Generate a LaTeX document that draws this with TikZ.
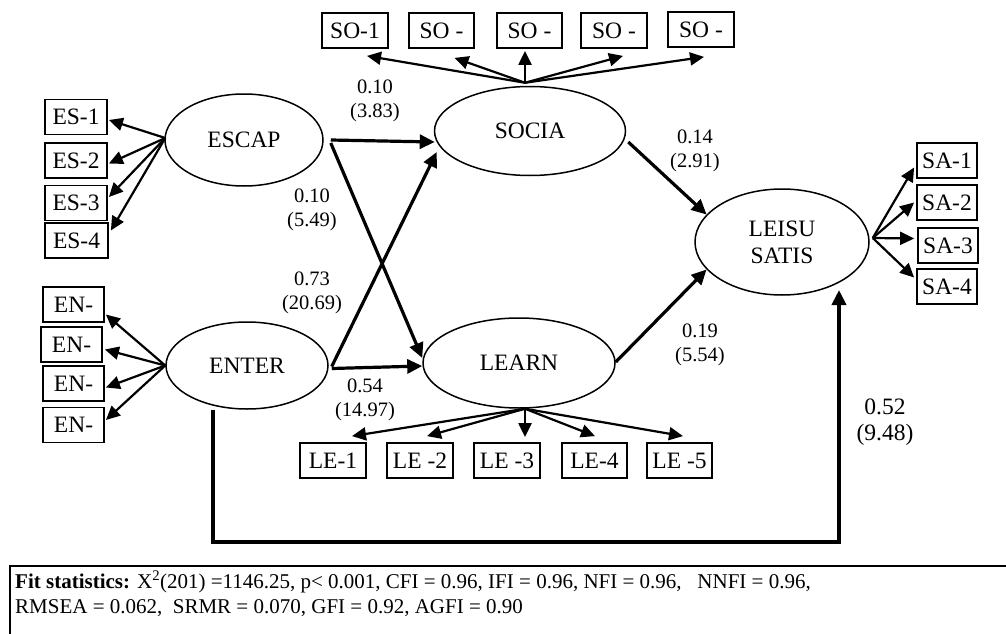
\documentclass[tikz,border=0pt]{standalone}
\usepackage{fontspec}
\setmainfont{Liberation Serif}
\usetikzlibrary{arrows.meta,shapes.geometric}
\begin{document}
\begin{tikzpicture}[x=1pt,y=-1pt,
 lat/.style={draw, ellipse, line width=1.5pt, inner sep=0pt, font=\fontsize{23.5}{27}\selectfont, align=center},
 ind/.style={draw, rectangle, line width=1.8pt, inner sep=0pt, minimum height=35pt, font=\fontsize{23.5}{27}\selectfont},
 load/.style={line width=2.2pt, -{Triangle[length=14pt,width=13pt]}},
 strpath/.style={line width=3.2pt, -{Triangle[length=15pt,width=14pt]}},
 coef/.style={font=\fontsize{20.5}{24}\selectfont, align=center, inner sep=0pt},
 bigcoef/.style={font=\fontsize{23.5}{26}\selectfont, align=center, inner sep=0pt},
 fit/.style={font=\fontsize{21}{25}\selectfont, inner sep=0pt, anchor=base west},
]
\useasboundingbox (0,0) rectangle (1006,634);

% latent variables
\node[lat, minimum width=158pt, minimum height=92pt] (ESCAP) at (244,140) {ESCAP};
\node[lat, minimum width=191pt, minimum height=89pt] (SOCIA) at (530,131) {SOCIA};
\node[lat, minimum width=162pt, minimum height=87pt] (ENTER) at (247,365.5) {ENTER};
\node[lat, minimum width=192pt, minimum height=90pt] (LEARN) at (519,363) {LEARN};
\node[lat, minimum width=174pt, minimum height=106pt] (LEISU) at (782,242) {LEISU\\SATIS};

% indicators
\node[ind, minimum width=66pt] (SO1) at (355,30.5) {SO-1};
\node[ind, minimum width=65pt] (SO2) at (441.5,30.5) {SO -};
\node[ind, minimum width=65pt] (SO3) at (529.5,30.5) {SO -};
\node[ind, minimum width=66pt] (SO4) at (614,30.5) {SO -};
\node[ind, minimum width=66pt] (SO5) at (701,29.5) {SO -};

\node[ind, minimum width=62pt] (ES1) at (76,117) {ES-1};
\node[ind, minimum width=62pt] (ES2) at (76,160.5) {ES-2};
\node[ind, minimum width=62pt] (ES3) at (76,203) {ES-3};
\node[ind, minimum width=63pt] (ES4) at (76.5,240.5) {ES-4};

\node[ind, minimum width=61pt] (EN1) at (73.5,304.5) {EN-};
\node[ind, minimum width=61pt] (EN2) at (71.5,344.5) {EN-};
\node[ind, minimum width=61pt] (EN3) at (73.5,383.5) {EN-};
\node[ind, minimum width=61pt] (EN4) at (73.5,425) {EN-};

\node[ind, minimum width=66pt] (LE1) at (333,460.5) {LE-1};
\node[ind, minimum width=66pt] (LE2) at (420,460.5) {LE -2};
\node[ind, minimum width=66pt] (LE3) at (507,460.5) {LE -3};
\node[ind, minimum width=65pt] (LE4) at (594.5,460.5) {LE-4};
\node[ind, minimum width=65pt] (LE5) at (679.5,460.5) {LE -5};

\node[ind, minimum width=60pt] (SA1) at (947,160.5) {SA-1};
\node[ind, minimum width=60pt] (SA2) at (947,202.5) {SA-2};
\node[ind, minimum width=60pt] (SA3) at (948,245.5) {SA-3};
\node[ind, minimum width=60pt] (SA4) at (947,286.5) {SA-4};

% loadings
\coordinate (sotop) at ([xshift=-5pt,yshift=3pt]SOCIA.north);
\draw[load] (sotop) -- ([xshift=12pt,yshift=-7pt]SO1.south);
\draw[load] (sotop) -- ([xshift=13pt,yshift=-9pt]SO2.south);
\draw[load] (sotop) -- ([xshift=-4.5pt,yshift=-2pt]SO3.south);
\draw[load] (sotop) -- ([xshift=9pt,yshift=-7pt]SO4.south);
\draw[load] (sotop) -- ([xshift=3pt,yshift=-9pt]SO5.south);

\coordinate (esw) at ([xshift=1pt,yshift=2pt]ESCAP.west);
\draw[load] (esw) -- ([xshift=1pt,yshift=-3pt]ES1.east);
\draw[load] (esw) -- ([xshift=1pt,yshift=-3pt]ES2.east);
\draw[load] (esw) -- ([xshift=1pt,yshift=6pt]ES3.east);
\draw[load] (esw) -- ([xshift=2pt,yshift=10pt]ES4.east);

\coordinate (enw) at ([xshift=0pt]ENTER.west);
\draw[load] (enw) -- ([xshift=1pt,yshift=-10pt]EN1.east);
\draw[load] (enw) -- ([xshift=2pt,yshift=-5pt]EN2.east);
\draw[load] (enw) -- ([xshift=1pt,yshift=-4pt]EN3.east);
\draw[load] (enw) -- ([xshift=1pt,yshift=5pt]EN4.east);

\coordinate (lebot) at ([xshift=6pt]LEARN.south);
\draw[load] (lebot) -- ([xshift=19pt,yshift=6pt]LE1.north);
\draw[load] (lebot) -- ([xshift=7pt,yshift=6pt]LE2.north);
\draw[load] (lebot) -- ([xshift=18pt,yshift=5pt]LE3.north);
\draw[load] (lebot) -- ([xshift=0.5pt,yshift=6pt]LE4.north);
\draw[load] (lebot) -- ([xshift=3.5pt,yshift=6pt]LE5.north);

\coordinate (lse) at ([xshift=3pt,yshift=4pt]LEISU.east);
\draw[load] (lse) -- ([xshift=-2pt,yshift=-7pt]SA1.west);
\draw[load] (lse) -- ([xshift=-2pt,yshift=0pt]SA2.west);
\draw[load] (lse) -- ([xshift=-3pt,yshift=7pt]SA3.west);
\draw[load] (lse) -- ([xshift=-2pt,yshift=9pt]SA4.west);

% structural paths
\draw[strpath] ([xshift=7pt]ESCAP.east) -- ([xshift=1pt,yshift=-11pt]SOCIA.west);
\draw[strpath] ([xshift=7pt,yshift=-3pt]ESCAP.east) -- ([xshift=0pt,yshift=5pt]LEARN.west);
\draw[strpath] ([xshift=3pt,yshift=-1pt]ENTER.east) -- ([xshift=3pt,yshift=-21pt]SOCIA.west);
\draw[strpath] ([xshift=3pt,yshift=-3pt]ENTER.east) -- ([yshift=-3pt]LEARN.west);
\draw[strpath] ([xshift=2pt,yshift=-11pt]SOCIA.east) -- (LEISU.160);
\draw[strpath] ([yshift=1pt]LEARN.east) -- (LEISU.200);

\coordinate (c1) at (839,542);
\coordinate (c2) at (839,290);
\draw[line width=4pt, -{Triangle[length=15pt,width=14pt]}] ([xshift=-34pt]ENTER.south) |- (c1) -- (c2);

% coefficients
\node[coef] (k1) at (375,101) {0.10\\(3.83)};
\node[coef] (k2) at (312,209.5) {0.10\\(5.49)};
\node[coef] (k3) at (312,292.5) {0.73\\(20.69)};
\node[coef] (k4) at (365,400) {0.54\\(14.97)};
\node[coef] (k5) at (695,150.5) {0.14\\(2.91)};
\node[coef] (k6) at (700,344.5) {0.19\\(5.54)};
\node[bigcoef] (k7) at (885,422) {0.52\\(9.48)};

% fit statistics box
\draw[line width=1.8pt] (10,634) -- (10,566) -- (1006,566);
\node[fit] (fit1) at (15,588) {\textbf{Fit statistics:} X\textsuperscript{2}(201) =1146.25, p< 0.001, CFI = 0.96, IFI = 0.96, NFI = 0.96,\ \ \ NNFI = 0.96,};
\node[fit] (fit2) at (15,613) {RMSEA = 0.062,\ \ SRMR = 0.070, GFI = 0.92, AGFI = 0.90};
\end{tikzpicture}
\end{document}
